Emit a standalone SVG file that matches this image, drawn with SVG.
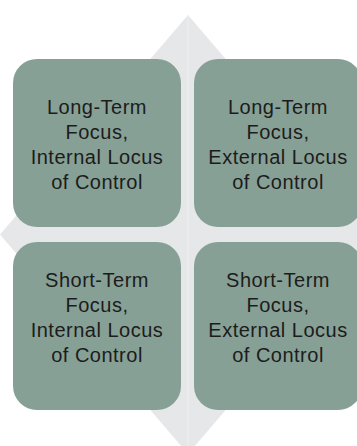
<svg xmlns="http://www.w3.org/2000/svg" width="357" height="446" viewBox="0 0 357 446">
<style>
.box{fill:#87A096;}
.lbl{font-family:"Liberation Sans",Arial,sans-serif;font-size:20px;letter-spacing:0.5px;fill:#1c1c1c;text-anchor:middle;}
</style>
<rect width="357" height="446" fill="#ffffff"/>
<g id="background">
<polygon points="188,15 376,234.5 188,454 0,234.5" fill="#E6E7E8"/>
<line x1="188" y1="15" x2="188" y2="454" stroke="#EEEFF0" stroke-width="1"/>
</g>
<g id="connectors"></g>
<g id="node-lt-internal">
<rect class="box" x="13" y="59" width="168" height="168" rx="24" ry="24"/>
<text class="lbl"><tspan x="97" y="114">Long-Term</tspan><tspan x="97" y="139">Focus,</tspan><tspan x="97" y="164">Internal Locus</tspan><tspan x="97" y="189">of Control</tspan></text>
</g>
<g id="node-lt-external">
<rect class="box" x="194" y="59" width="168" height="168" rx="24" ry="24"/>
<text class="lbl"><tspan x="278" y="114">Long-Term</tspan><tspan x="278" y="139">Focus,</tspan><tspan x="278" y="164">External Locus</tspan><tspan x="278" y="189">of Control</tspan></text>
</g>
<g id="node-st-internal">
<rect class="box" x="13" y="242" width="168" height="168" rx="24" ry="24"/>
<text class="lbl"><tspan x="97" y="287">Short-Term</tspan><tspan x="97" y="312">Focus,</tspan><tspan x="97" y="337">Internal Locus</tspan><tspan x="97" y="362">of Control</tspan></text>
</g>
<g id="node-st-external">
<rect class="box" x="194" y="242" width="168" height="168" rx="24" ry="24"/>
<text class="lbl"><tspan x="278" y="287">Short-Term</tspan><tspan x="278" y="312">Focus,</tspan><tspan x="278" y="337">External Locus</tspan><tspan x="278" y="362">of Control</tspan></text>
</g>
</svg>
